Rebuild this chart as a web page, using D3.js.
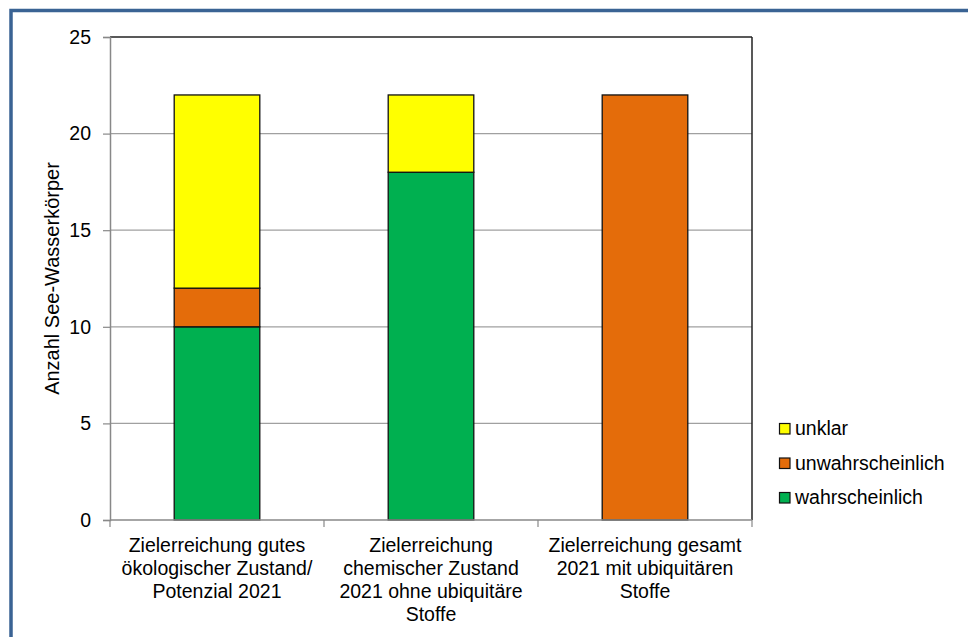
<!DOCTYPE html>
<html><head><meta charset="utf-8">
<script src="https://cdn.jsdelivr.net/npm/d3@7"></script>
<style>
html,body{margin:0;padding:0;background:#fff;}
svg{display:block;font-family:"Liberation Sans",Arial,sans-serif;}
</style></head>
<body>
<svg id="chart" width="968" height="637"></svg>
<script>
const categories = [
  ["Zielerreichung gutes", "ökologischer Zustand/", "Potenzial 2021"],
  ["Zielerreichung", "chemischer Zustand", "2021 ohne ubiquitäre", "Stoffe"],
  ["Zielerreichung gesamt", "2021 mit ubiquitären", "Stoffe"]
];
const seriesNames = ["wahrscheinlich", "unwahrscheinlich", "unklar"];
const wahrscheinlich = [10, 18, 0];
const unwahrscheinlich = [2, 0, 22];
const unklar = [10, 4, 0];
const colors = ["#00B050", "#E46C0A", "#FFFF00"];
const yTicks = [0, 5, 10, 15, 20, 25];

const FS = 19.5;
const svg = d3.select("#chart");
// outer frame
svg.append("rect").attr("x", 11).attr("y", 10.5).attr("width", 1000).attr("height", 700)
  .attr("fill", "none").attr("stroke", "#3A6394").attr("stroke-width", 3.5);

const L = 110, R = 752, T = 37, B = 520;
const x = d3.scaleBand().domain(d3.range(categories.length)).range([L, R]).paddingInner(0).paddingOuter(0);
const y = d3.scaleLinear().domain([0, 25]).range([B, T]);

// gridlines
svg.append("g").selectAll("line").data(yTicks.filter(d => d > 0 && d < 25)).join("line")
  .attr("x1", L).attr("x2", R).attr("y1", d => y(d)).attr("y2", d => y(d))
  .attr("stroke", "#A0A0A0").attr("stroke-width", 1.2);

// plot border top & right
svg.append("line").attr("x1", L).attr("x2", R).attr("y1", T).attr("y2", T).attr("stroke", "#222").attr("stroke-width", 1.5);
svg.append("line").attr("x1", R).attr("x2", R).attr("y1", T).attr("y2", B).attr("stroke", "#222").attr("stroke-width", 1.5);

// stacked bars
const data = d3.range(categories.length).map(i => ({i, wahrscheinlich: wahrscheinlich[i], unwahrscheinlich: unwahrscheinlich[i], unklar: unklar[i]}));
const stack = d3.stack().keys(seriesNames)(data);
const bw = x.bandwidth() * 0.4;
stack.forEach((layer, k) => {
  svg.append("g").selectAll("rect").data(layer.filter(d => d[1] - d[0] > 0)).join("rect")
    .attr("x", d => x(d.data.i) + (x.bandwidth() - bw) / 2)
    .attr("width", bw)
    .attr("y", d => y(d[1]))
    .attr("height", d => y(d[0]) - y(d[1]))
    .attr("fill", colors[k]).attr("stroke", "#111").attr("stroke-width", 1.3);
});

// y axis
const yAxis = d3.axisLeft(y).tickValues(yTicks).tickSize(7).tickPadding(12);
const gy = svg.append("g").attr("transform", `translate(${L},0)`).call(yAxis);
gy.select(".domain").attr("stroke", "#888").attr("stroke-width", 1.5);
gy.selectAll(".tick line").attr("stroke", "#888").attr("stroke-width", 1.2);
gy.selectAll(".tick text").attr("font-size", FS).attr("fill", "#000").attr("font-family", "Liberation Sans, Arial, sans-serif");

// x axis
const gx = svg.append("g").attr("transform", `translate(0,${B})`);
gx.append("line").attr("x1", L).attr("x2", R).attr("stroke", "#888").attr("stroke-width", 1.5);
const bounds = d3.range(categories.length + 1).map(i => i < categories.length ? x(i) : x(i - 1) + x.bandwidth());
gx.selectAll("line.tk").data(bounds).join("line").attr("class", "tk")
  .attr("x1", d => d).attr("x2", d => d).attr("y1", 0).attr("y2", 7)
  .attr("stroke", "#888").attr("stroke-width", 1.2);
categories.forEach((lines, i) => {
  const t = gx.append("text").attr("x", x(i) + x.bandwidth() / 2).attr("y", 32)
    .attr("text-anchor", "middle").attr("font-size", FS).attr("fill", "#000");
  lines.forEach((ln, j) => t.append("tspan").attr("x", x(i) + x.bandwidth() / 2).attr("dy", j === 0 ? 0 : 23).text(ln));
});

// y label
svg.append("text").attr("transform", `translate(59,${(T + B) / 2}) rotate(-90)`)
  .attr("text-anchor", "middle").attr("font-size", 20).attr("fill", "#000").text("Anzahl See-Wasserkörper");

// legend
const legendOrder = [2, 1, 0];
const lg = svg.append("g");
legendOrder.forEach((k, j) => {
  const base = 435 + j * 34.5;
  lg.append("rect").attr("x", 779.5).attr("y", base - 11.5).attr("width", 10.5).attr("height", 10.5)
    .attr("fill", colors[k]).attr("stroke", "#111").attr("stroke-width", 1.2);
  lg.append("text").attr("x", 795).attr("y", base).attr("font-size", FS).attr("fill", "#000").text(seriesNames[k]);
});
</script>
</body></html>
